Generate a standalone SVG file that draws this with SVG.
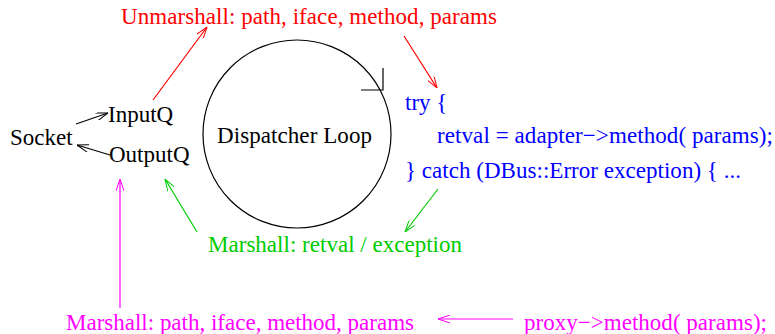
<svg xmlns="http://www.w3.org/2000/svg" width="775" height="334" viewBox="0 0 775 334">
<defs>
<style>
text{font-family:"Liberation Serif","Times New Roman",serif;font-size:23px}
.k{fill:#000}.r{fill:#ff0000}.b{fill:#0000ff}.g{fill:#00cc00}.m{fill:#ff00ff}
.ln{fill:none;stroke-width:1.2}
</style>
<marker id="ak" viewBox="0 0 12 8" refX="12" refY="4" markerWidth="12" markerHeight="8" markerUnits="userSpaceOnUse" orient="auto"><path d="M0,0 L12,4 L0,8" fill="none" stroke="#000" stroke-width="1"/></marker>
<marker id="ar" viewBox="0 0 12 8" refX="12" refY="4" markerWidth="12" markerHeight="8" markerUnits="userSpaceOnUse" orient="auto"><path d="M0,0 L12,4 L0,8" fill="none" stroke="#ff0000" stroke-width="1"/></marker>
<marker id="ag" viewBox="0 0 12 8" refX="12" refY="4" markerWidth="12" markerHeight="8" markerUnits="userSpaceOnUse" orient="auto"><path d="M0,0 L12,4 L0,8" fill="none" stroke="#00cc00" stroke-width="1"/></marker>
<marker id="am" viewBox="0 0 12 8" refX="12" refY="4" markerWidth="12" markerHeight="8" markerUnits="userSpaceOnUse" orient="auto"><path d="M0,0 L12,4 L0,8" fill="none" stroke="#ff00ff" stroke-width="1"/></marker>
</defs>
<g id="loop">
<circle cx="297" cy="134" r="94" fill="none" stroke="#000" stroke-width="1.2"/>
<path d="M383,68 L383,90 L361,90" fill="none" stroke="#000" stroke-width="1.2"/>
<text class="k" x="217" y="143" textLength="155">Dispatcher Loop</text>
</g>
<g id="socket"><text class="k" x="10" y="145">Socket</text></g>
<g id="inputq"><text class="k" x="108" y="122">InputQ</text></g>
<g id="outputq"><text class="k" x="109" y="162">OutputQ</text></g>
<g id="unmarshall"><text class="r" x="121" y="24" textLength="376">Unmarshall: path, iface, method, params</text></g>
<g id="code">
<text class="b" x="405" y="110">try {</text>
<text class="b" x="437" y="143" textLength="336">retval = adapter−&gt;method( params);</text>
<text class="b" x="405" y="178" textLength="336">} catch (DBus::Error exception) { ...</text>
</g>
<g id="marshall-ret"><text class="g" x="208" y="252" textLength="254">Marshall: retval / exception</text></g>
<g id="marshall-call"><text class="m" x="66" y="330" textLength="348">Marshall: path, iface, method, params</text></g>
<g id="proxy"><text class="m" x="524" y="330" textLength="243">proxy−&gt;method( params);</text></g>
<g id="connectors">
<line class="ln" stroke="#000" x1="76" y1="124" x2="108" y2="113" marker-end="url(#ak)"/>
<line class="ln" stroke="#000" x1="110" y1="155" x2="77" y2="145" marker-end="url(#ak)"/>
<line class="ln" stroke="#ff0000" x1="153" y1="100" x2="207" y2="27" marker-end="url(#ar)"/>
<line class="ln" stroke="#ff0000" x1="404" y1="36" x2="437" y2="88" marker-end="url(#ar)"/>
<line class="ln" stroke="#00cc00" x1="438" y1="189" x2="405" y2="232" marker-end="url(#ag)"/>
<line class="ln" stroke="#00cc00" x1="197" y1="232" x2="165" y2="179" marker-end="url(#ag)"/>
<line class="ln" stroke="#ff00ff" x1="120" y1="308" x2="120" y2="179" marker-end="url(#am)"/>
<line class="ln" stroke="#ff00ff" x1="513" y1="319" x2="438" y2="319" marker-end="url(#am)"/>
</g>
</svg>
